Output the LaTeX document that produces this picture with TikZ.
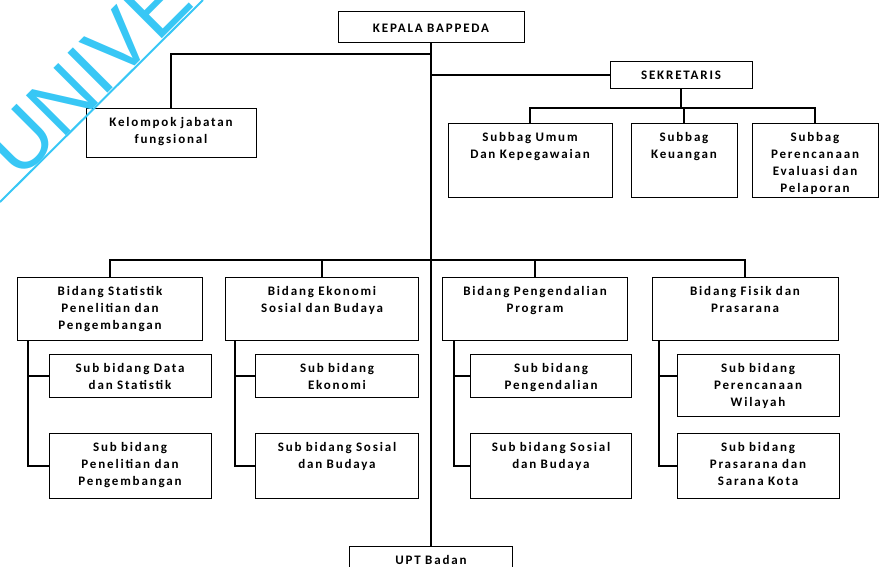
\documentclass[tikz,border=0pt]{standalone}
\usepackage{fontspec}
\setmainfont[LetterSpace=14, WordSpace=1.6]{Carlito}
\newfontfamily\wmfont{Liberation Sans}
\usetikzlibrary{positioning}
\definecolor{wmblue}{RGB}{56,199,245}

\begin{document}
\begin{tikzpicture}[x=1pt, y=-1pt,
                    every node/.style = {font=\fontsize{13}{17}\selectfont\bfseries},
                    kotak/.style = {shape=rectangle, draw, line width=1pt,
                      align=center, anchor=north, inner xsep=0pt,
                      inner ysep=6.5pt, text height=11pt},
                    garis/.style = {line width=1.1pt}]
  \useasboundingbox (0,0) rectangle (880,566);

  \node[kotak, text width=186pt, text height=14pt, text depth=4pt] (kepala) at (431,11) {KEPALA BAPPEDA};
  \node[kotak, text width=170pt, text depth=25pt] (kelompok) at (171,108) {Kelompok jabatan\\fungsional};
  \node[kotak, text width=142pt, text depth=3pt] (sekretaris) at (681,61) {SEKRETARIS};

  \node[kotak, text width=164pt, text depth=50pt] (umum) at (530,123) {Subbag Umum\\Dan Kepegawaian};
  \node[kotak, text width=106pt, text depth=50pt] (keuangan) at (684,123) {Subbag\\Keuangan};
  \node[kotak, text width=126pt, text depth=50pt] (perencanaan) at (815,123) {Subbag\\Perencanaan\\Evaluasi dan\\Pelaporan};

  \node[kotak, text width=185pt, text depth=39pt] (statistik) at (110,277) {Bidang Statistik\\Penelitian dan\\Pengembangan};
  \node[kotak, text width=193pt, text depth=39pt] (ekonomi) at (322,277) {Bidang Ekonomi\\Sosial dan Budaya};
  \node[kotak, text width=185pt, text depth=39pt] (pengendalian) at (535,277) {Bidang Pengendalian\\Program};
  \node[kotak, text width=186pt, text depth=39pt] (fisik) at (745,277) {Bidang Fisik dan\\Prasarana};

  \node[kotak, text width=162pt, text depth=19pt] (data) at (130,354) {Sub bidang Data\\dan Statistik};
  \node[kotak, text width=162pt, text depth=41pt, below=35pt of data] (penelitian) {Sub bidang\\Penelitian dan\\Pengembangan};
  \node[kotak, text width=163pt, text depth=19pt] (subekonomi) at (337,354) {Sub bidang\\Ekonomi};
  \node[kotak, text width=163pt, text depth=41pt, below=35pt of subekonomi] (subsosial) {Sub bidang Sosial\\dan Budaya};
  \node[kotak, text width=161pt, text depth=19pt] (subpengendalian) at (551,354) {Sub bidang\\Pengendalian};
  \node[kotak, text width=161pt, text depth=41pt, below=35pt of subpengendalian] (subsosialdua) {Sub bidang Sosial\\dan Budaya};
  \node[kotak, text width=162pt, text depth=38pt] (wilayah) at (758,354) {Sub bidang\\Perencanaan\\Wilayah};
  \node[kotak, text width=162pt, text depth=41pt, below=16pt of wilayah] (kota) {Sub bidang\\Prasarana dan\\Sarana Kota};

  \node[kotak, text width=163pt, text depth=16pt] (upt) at (431,546) {UPT Badan};

  \coordinate (k1) at (431,54);
  \coordinate (s1) at (681,108);
  \coordinate (b1) at (431,260);
  \coordinate (c1) at (28,340);
  \coordinate (c2) at (235,340);
  \coordinate (c3) at (454,340);
  \coordinate (c4) at (659,340);

  \draw[garis, line width=1.6pt] (kepala) -- (upt);
  \draw[garis] (kelompok.north) |- (k1);
  \draw[garis] (sekretaris.west) -- (sekretaris.west -| kepala.south);
  \draw[garis] (sekretaris) -- (s1);
  \foreach \n in {umum, keuangan, perencanaan}
    \draw[garis] (s1) -| (\n.north);
  \foreach \n in {statistik, ekonomi, pengendalian, fisik}
    \draw[garis] (b1) -| (\n.north);
  \foreach \c/\s/\t in {c1/data/penelitian, c2/subekonomi/subsosial,
                        c3/subpengendalian/subsosialdua, c4/wilayah/kota} {
    \draw[garis] (\c) |- (\t.west);
    \draw[garis] ([yshift=-22pt]\s.north west) -- ([yshift=-22pt]\s.north west -| \c);
  }

  \draw[wmblue, line width=2pt] (0,202) -- (203,0);
  \node[anchor=base west, rotate=45, inner sep=0pt, text=wmblue,
        font=\wmfont\fontsize{82}{82}\selectfont] (watermark) at (19,182) {UNIVE};
\end{tikzpicture}
\end{document}
